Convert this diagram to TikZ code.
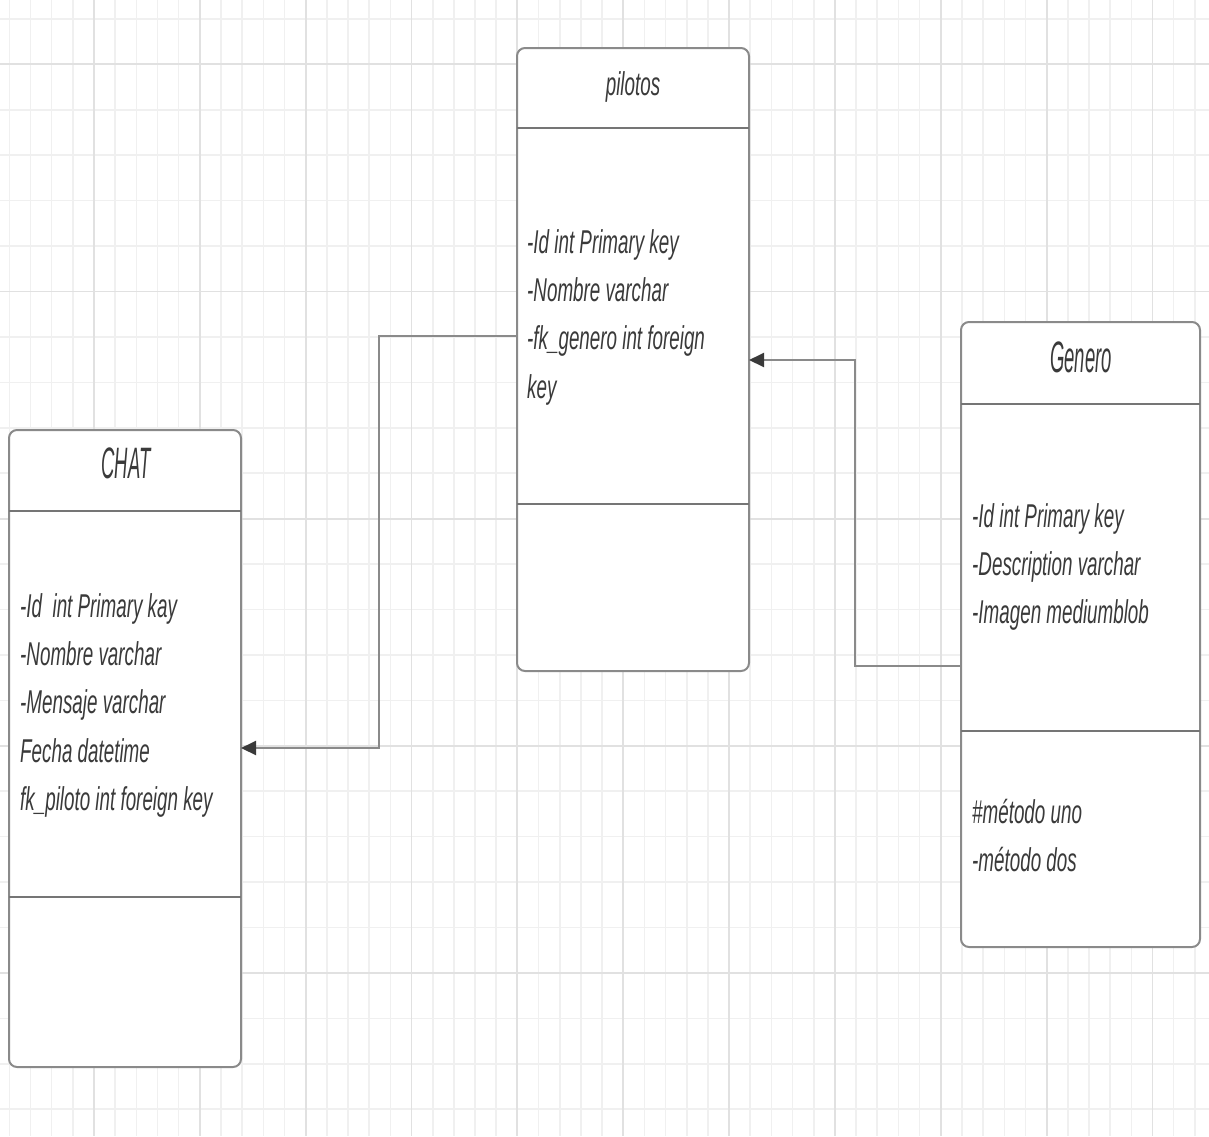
\documentclass[tikz,border=0pt]{standalone}
\usepackage{fontspec}
\usetikzlibrary{arrows.meta}

\newfontfamily\umlfont[FakeStretch=0.57]{Liberation Sans}
\newfontfamily\umltitlefont[FakeStretch=0.42]{Liberation Sans}

\definecolor{gridminor}{HTML}{F0F0F0}
\definecolor{gridmajor}{HTML}{E1E1E1}
\definecolor{boxgray}{HTML}{8A8A8A}
\definecolor{inkgray}{HTML}{3A3A3A}

\tikzset{
  classbox/.style={draw=boxgray, line width=2pt, fill=white, rounded corners=8pt,
    anchor=north west, inner sep=0pt, outer sep=0pt},
  divider/.style={draw=boxgray!85!black, line width=2.5pt},
  assoc/.style={draw=boxgray, line width=2pt,
    -{Triangle[length=15pt,width=14pt,color=inkgray]}},
  attr/.style={anchor=base west, inner sep=0pt, text=inkgray,
    font=\umlfont\itshape\fontsize{33}{48}\selectfont},
  classname/.style={anchor=base, inner sep=0pt, text=inkgray,
    font=\umltitlefont\itshape\fontsize{44}{50}\selectfont},
}

\begin{document}
\begin{tikzpicture}[x=1pt,y=-1pt]

\useasboundingbox (0,0) rectangle (1209,1136);
\fill[white] (0,0) rectangle (1209,1136);

% grid
\foreach \k in {0,...,56}
  \draw[gridminor, line width=1.6pt] ({9.3+21.17*\k},0) -- ++(0,1136);
\foreach \k in {0,...,24}
  \draw[gridminor, line width=1.6pt] (0,{18.9+45.43*\k}) -- ++(1209,0);
\foreach \k in {4,9,...,54}
  \draw[gridmajor, line width=1.8pt] ({9.3+21.17*\k},0) -- ++(0,1136);
\foreach \k in {1,6,...,21}
  \draw[gridmajor, line width=1.8pt] (0,{18.9+45.43*\k}) -- ++(1209,0);

% classes
\node[classbox, minimum width=232pt, minimum height=623pt] (pilotos) at (517,48) {};
\node[classbox, minimum width=232pt, minimum height=637pt] (chat) at (9,430) {};
\node[classbox, minimum width=239pt, minimum height=625pt] (genero) at (961,322) {};

\draw[divider] (pilotos.west |- 0,128) -- (pilotos.east |- 0,128);
\draw[divider] (pilotos.west |- 0,504) -- (pilotos.east |- 0,504);
\draw[divider] (chat.west |- 0,511) -- (chat.east |- 0,511);
\draw[divider] (chat.west |- 0,897) -- (chat.east |- 0,897);
\draw[divider] (genero.west |- 0,404) -- (genero.east |- 0,404);
\draw[divider] (genero.west |- 0,731) -- (genero.east |- 0,731);

% names
\node[attr, anchor=base] (pilotosname) at (633,95) {pilotos};
\node[classname] (chatname) at (126,478) {CHAT};
\node[classname] (generoname) at (1081,372) {Genero};

% attributes
\foreach \txt [count=\i] in {-Id int Primary key, -Nombre varchar,
    -fk\_genero int foreign, key}
  \node[attr] (pa\i) at (527,{253+48.4*(\i-1)}) {\txt};

\foreach \txt [count=\i] in {-Id~ int Primary kay, -Nombre varchar,
    -Mensaje varchar, Fecha datetime, fk\_piloto int foreign key}
  \node[attr] (ca\i) at (20,{617+48.4*(\i-1)}) {\txt};

\foreach \txt [count=\i] in {-Id int Primary key, -Description varchar,
    -Imagen mediumblob}
  \node[attr] (ga\i) at (972,{527+48.4*(\i-1)}) {\txt};

\foreach \txt [count=\i] in {\#método uno, -método dos}
  \node[attr] (gm\i) at (972,{823+48.4*(\i-1)}) {\txt};

% links
\draw[assoc] (pilotos.west |- 0,336) -| (379,748) -- (chat.east |- 0,748);
\draw[assoc] (genero.west |- 0,666) -| (855,360) -- (pilotos.east |- 0,360);

\end{tikzpicture}
\end{document}
